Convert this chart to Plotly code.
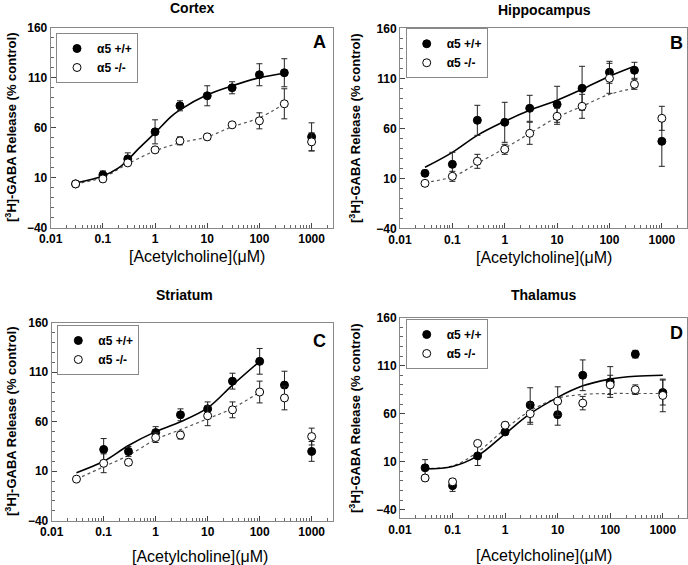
import plotly.graph_objects as go
from plotly.subplots import make_subplots

conc = [0.03, 0.1, 0.3, 1, 3, 10, 30, 100, 300, 1000]

# Cortex
ctx_wt = [4, 13, 29, 56, 82, 92, 100, 113, 115, 51]
ctx_wt_err = [0, 4, 6, 12, 5, 10, 6, 11, 14, 14]
ctx_ko = [4, 9, 25, 38, 47, 51, 63, 67, 84, 46]
ctx_ko_err = [1.5, 3, 2, 2, 4, 3, 2, 8, 15, 9]
ctx_wt_fit_x = [0.03, 0.1, 0.2, 0.3, 0.5, 1, 2, 3, 10, 30, 100, 300]
ctx_wt_fit = [5, 12, 20, 28, 40, 55, 71, 78, 93, 102, 110, 114.5]
ctx_ko_fit_x = [0.03, 0.1, 0.3, 1, 3, 10, 30, 100, 300]
ctx_ko_fit = [4, 10.5, 24, 37, 45, 51, 61, 70, 84]

# Hippocampus
hip_wt = [15, 24, 68, 66, 80, 84, 100, 116, 118, 47]
hip_wt_err = [3, 12, 15, 20, 13, 18, 22, 11, 8, 25]
hip_ko = [5, 12, 27, 39, 55, 72, 82, 110, 104, 70]
hip_ko_err = [2, 5, 7, 5, 11, 8, 12, 15, 5, 12]
hip_wt_fit_x = [0.03, 0.1, 0.3, 1, 3, 10, 30, 100, 300]
hip_wt_fit = [21, 36, 53, 67, 78, 88, 99, 112, 122]
hip_ko_fit_x = [0.03, 0.1, 0.3, 1, 3, 10, 30, 100, 300]
hip_ko_fit = [6, 11.5, 25, 40, 55, 71, 82, 94, 100]

# Striatum
str_wt = [None, 32, 30, 49, 67, 73, 101, 121, 97, 30]
str_wt_err = [0, 11, 5, 6, 6, 7, 8, 13, 14, 10]
str_ko = [2, 18, 19, 44, 46.5, 66, 72, 90, 84, 45]
str_ko_err = [2, 9.5, 3, 5, 4, 10, 8, 11, 12, 8.5]
str_wt_fit_x = [0.03, 0.1, 0.3, 1, 3, 10, 30, 100]
str_wt_fit = [8.5, 20, 36, 50, 60, 74, 97, 121]
str_ko_fit_x = [0.03, 0.1, 0.3, 1, 3, 10, 30, 100]
str_ko_fit = [2, 14.5, 26, 42, 52, 63, 73.5, 90]

# Thalamus
thal_wt = [3.6, -15, 16, 41, 69, 59, 100, 93, 122, 82]
thal_wt_err = [8.5, 6, 10, 3, 18, 11, 16, 16, 4, 13]
thal_ko = [-7, -11, 29, 48, 60, 73, 71, 90, 85, 79]
thal_ko_err = [3, 3, 2, 3, 11, 15, 7, 10, 5, 17]
thal_fit_x = [0.03, 0.1, 0.3, 1, 3, 10, 30, 100, 300, 1000]
thal_wt_fit = [2.5, 5, 16, 39, 60, 77, 89, 96, 99, 100]
thal_ko_fit = [3, 5.5, 20, 44, 63, 76, 80, 81, 81, 81]

xtick_vals = [0.01, 0.1, 1, 10, 100, 1000]
xtick_text = ["0.01", "0.1", "1", "10", "100", "1000"]
ytick_vals = [-40, 10, 60, 110, 160]

FONT = "Arial, Liberation Sans, sans-serif"

fig = make_subplots(rows=2, cols=2)

panels = [
    (1, 1, "legend", ctx_wt, ctx_wt_err, ctx_ko, ctx_ko_err, ctx_wt_fit_x, ctx_wt_fit, ctx_ko_fit_x, ctx_ko_fit),
    (1, 2, "legend2", hip_wt, hip_wt_err, hip_ko, hip_ko_err, hip_wt_fit_x, hip_wt_fit, hip_ko_fit_x, hip_ko_fit),
    (2, 1, "legend3", str_wt, str_wt_err, str_ko, str_ko_err, str_wt_fit_x, str_wt_fit, str_ko_fit_x, str_ko_fit),
    (2, 2, "legend4", thal_wt, thal_wt_err, thal_ko, thal_ko_err, thal_fit_x, thal_wt_fit, thal_fit_x, thal_ko_fit),
]

for r, c, lg, wt, wt_e, ko, ko_e, fx1, fy1, fx2, fy2 in panels:
    fig.add_trace(go.Scatter(x=fx2, y=fy2, mode="lines", line_shape="spline",
                             line=dict(color="#555", width=1.2, dash="dot"),
                             showlegend=False, hoverinfo="skip"), row=r, col=c)
    fig.add_trace(go.Scatter(x=fx1, y=fy1, mode="lines", line_shape="spline",
                             line=dict(color="black", width=1.6),
                             showlegend=False, hoverinfo="skip"), row=r, col=c)
    fig.add_trace(go.Scatter(x=conc, y=wt, mode="markers", name="α5 +/+", legend=lg,
                             marker=dict(size=8, color="black", line=dict(color="black", width=1)),
                             error_y=dict(type="data", array=wt_e, color="#222", thickness=1, width=3)),
                  row=r, col=c)
    fig.add_trace(go.Scatter(x=conc, y=ko, mode="markers", name="α5 -/-", legend=lg,
                             marker=dict(size=8, color="white", line=dict(color="black", width=1)),
                             error_y=dict(type="data", array=ko_e, color="#222", thickness=1, width=3)),
                  row=r, col=c)

minor_x = [m * 10 ** e for e in range(-2, 4) for m in range(2, 10)]

domains = {
    1: ([0.0737, 0.4840], [0.5965, 0.9510], [-2, 3.41], [-40, 160]),
    2: ([0.5814, 0.9985], [0.5959, 0.9499], [-2, 3.48], [-40, 160]),
    3: ([0.0751, 0.4840], [0.0784, 0.4288], [-2, 3.41], [-40, 160]),
    4: ([0.5814, 0.9985], [0.0827, 0.4377], [-2, 3.46], [-49, 160]),
}
for i, (xd, yd, xr, yr) in domains.items():
    sfx = "" if i == 1 else str(i)
    fig.layout["xaxis" + sfx].update(
        type="log", domain=xd, range=xr, tickvals=xtick_vals, ticktext=xtick_text,
        ticks="inside", ticklen=5, tickcolor="#444", showline=True, mirror=True,
        linecolor="#888", linewidth=1, showgrid=False, zeroline=False, automargin=False,
        tickfont=dict(family=FONT, size=12, color="black", weight="bold"),
        minor=dict(tickvals=minor_x, ticks="inside", ticklen=3, tickcolor="#666", showgrid=False))
    fig.layout["yaxis" + sfx].update(
        domain=yd, range=yr, tickvals=ytick_vals, ticks="inside", ticklen=5,
        tickcolor="#444", showline=True, mirror=True, linecolor="#888", linewidth=1,
        showgrid=False, zeroline=False, automargin=False,
        tickfont=dict(family=FONT, size=12, color="black", weight="bold"),
        minor=dict(dtick=10, tick0=0, ticks="inside", ticklen=3, tickcolor="#666", showgrid=False))

leg_style = dict(bordercolor="#888", borderwidth=1, bgcolor="white",
                 font=dict(family=FONT, size=12, color="black", weight="bold"),
                 xanchor="left", yanchor="top", tracegroupgap=0)
fig.update_layout(
    legend=dict(x=0.0814, y=0.9416, **leg_style),
    legend2=dict(x=0.5897, y=0.9500, **leg_style),
    legend3=dict(x=0.0833, y=0.4248, **leg_style),
    legend4=dict(x=0.5897, y=0.4354, **leg_style),
)

ytitle = "<b>[<sup>3</sup>H]-GABA Release (% control)</b>"
texts = [
    # (text, x px, y px, size, angle, anchor)
    ("<b>Cortex</b>", 192, 8, 14, 0, "center"),
    ("<b>Hippocampus</b>", 544, 10, 14, 0, "center"),
    ("<b>Striatum</b>", 185, 295, 14, 0, "center"),
    ("<b>Thalamus</b>", 544, 295, 14, 0, "center"),
    ("<b>A</b>", 328, 42, 18, 0, "right"),
    ("<b>B</b>", 685, 43, 18, 0, "right"),
    ("<b>C</b>", 328, 341, 18, 0, "right"),
    ("<b>D</b>", 685, 333, 18, 0, "right"),
    ("[Acetylcholine](μM)", 197, 256, 16, 0, "center"),
    ("[Acetylcholine](μM)", 544, 257, 16, 0, "center"),
    ("[Acetylcholine](μM)", 200, 556, 16, 0, "center"),
    ("[Acetylcholine](μM)", 544, 555, 16, 0, "center"),
    (ytitle, 11, 127, 13, -90, "center"),
    (ytitle, 355, 128, 13, -90, "center"),
    (ytitle, 11, 421, 13, -90, "center"),
    (ytitle, 355, 418, 13, -90, "center"),
]
for t, px, py, sz, ang, anc in texts:
    fig.add_annotation(text=t, x=px / 688, y=1 - py / 565, xref="paper", yref="paper",
                       xanchor=anc, yanchor="middle", textangle=ang, showarrow=False,
                       font=dict(family=FONT, size=sz, color="black"))

fig.update_layout(width=688, height=565, margin=dict(l=0, r=0, t=0, b=0, autoexpand=False),
                  paper_bgcolor="white", plot_bgcolor="white")

# the page body has a default 8px margin; drop it so the figure sits at 0,0
fig.write_html("out.html", config={"displayModeBar": False},
               post_script="document.body.style.margin='0';")
